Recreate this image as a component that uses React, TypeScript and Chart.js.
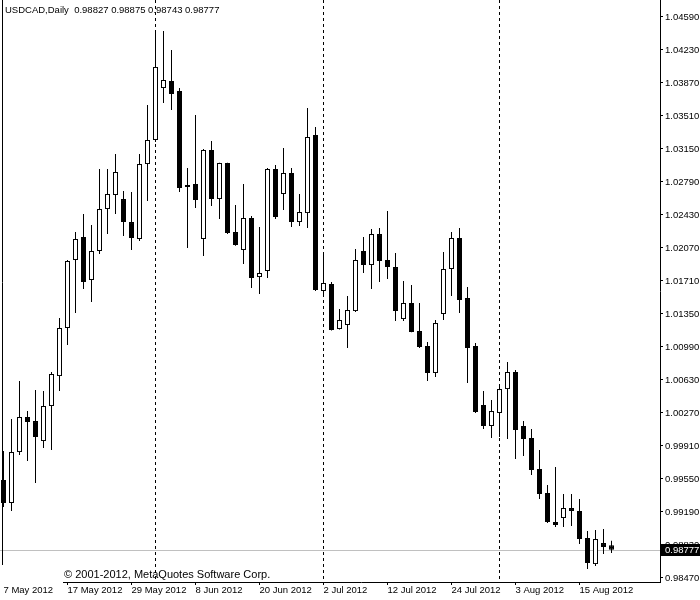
import React, { useEffect, useRef } from "react";
import { Chart, registerables } from "chart.js";

Chart.register(...registerables);

const symbolTitle = "USDCAD,Daily";
const copyrightText = "\u00a9 2001-2012, MetaQuotes Software Corp.";

const opens = [
  0.99539, 0.99288, 0.99844, 1.00226, 1.00182, 0.99964, 1.00346, 1.00673, 1.01197, 1.01939,
  1.0219, 1.01721, 1.02037, 1.02495, 1.02648, 1.02604, 1.02353, 1.02168, 1.02986, 1.03248,
  1.03815, 1.03892, 1.03783, 1.02735, 1.02768, 1.02168, 1.03139, 1.02604, 1.02997, 1.02244,
  1.02048, 1.02397, 1.01753, 1.01819, 1.02932, 1.02659, 1.02888, 1.02353, 1.02451, 1.03303,
  1.01601, 1.01677, 1.01186, 1.0123, 1.01382, 1.02037, 1.01884, 1.02222, 1.01939, 1.01862,
  1.01295, 1.0147, 1.01164, 1.01001, 1.00706, 1.0135, 1.01841, 1.02179, 1.01524, 1.01001,
  1.00357, 1.00128, 1.0027, 1.00531, 1.00717, 1.00128, 0.99997, 0.99659, 0.99397, 0.99081,
  0.99124, 0.99233, 0.99201, 0.98906, 0.98622, 0.98851, 0.98827,
];
const highs = [
  0.99855, 1.00204, 1.00619, 1.00291, 1.00521, 1.0051, 1.00717, 1.01306, 1.0194, 1.02244,
  1.02441, 1.02321, 1.02932, 1.02932, 1.03095, 1.02692, 1.02681, 1.03095, 1.0363, 1.04426,
  1.04437, 1.0423, 1.03815, 1.02943, 1.03521, 1.0315, 1.03237, 1.03, 1.03, 1.02539,
  1.02768, 1.02419, 1.02299, 1.02943, 1.02975, 1.03161, 1.02943, 1.02659, 1.03597, 1.0339,
  1.02004, 1.01699, 1.01404, 1.01546, 1.02059, 1.0219, 1.02277, 1.02288, 1.02473, 1.02015,
  1.0171, 1.01666, 1.0147, 1.01044, 1.01284, 1.02026, 1.02244, 1.02288, 1.01644, 1.01033,
  1.0051, 1.00411, 1.00564, 1.00826, 1.00739, 1.00182, 1.00095, 0.99866, 0.99484, 0.99681,
  0.99386, 0.99386, 0.99331, 0.98982, 0.98993, 0.99004, 0.98875,
];
const lows = [
  0.99244, 0.99201, 0.99811, 0.99746, 0.99506, 0.99888, 0.99866, 1.0051, 1.01011, 1.01361,
  1.01622, 1.01481, 1.02004, 1.02222, 1.02441, 1.02201, 1.02048, 1.02146, 1.02582, 1.03226,
  1.03652, 1.03575, 1.02681, 1.0207, 1.02506, 1.01982, 1.02528, 1.02386, 1.02222, 1.02095,
  1.01895, 1.01633, 1.01568, 1.01742, 1.02386, 1.02484, 1.02299, 1.0231, 1.02288, 1.016,
  1.01535, 1.0117, 1.0118, 1.00979, 1.01371, 1.01797, 1.01622, 1.01699, 1.01731, 1.01273,
  1.01273, 1.0115, 1.00979, 1.00619, 1.00662, 1.01284, 1.01546, 1.01361, 1.00597, 1.0027,
  1.00095, 0.99997, 1.00008, 0.99986, 0.99768, 0.99801, 0.99593, 0.99331, 0.9907, 0.99026,
  0.99026, 0.99037, 0.98841, 0.98568, 0.98601, 0.98731, 0.98743,
];
const closes = [
  0.99288, 0.99844, 1.00226, 1.00171, 1.00008, 1.00346, 1.00695, 1.01197, 1.01928, 1.02168,
  1.01699, 1.02037, 1.02495, 1.02659, 1.02899, 1.02353, 1.02179, 1.02986, 1.03248, 1.04045,
  1.03903, 1.0375, 1.02724, 1.02757, 1.02593, 1.03139, 1.02604, 1.02997, 1.02233, 1.02102,
  1.02397, 1.01742, 1.01797, 1.02932, 1.02408, 1.02888, 1.02353, 1.02462, 1.03281, 1.01611,
  1.01688, 1.01175, 1.01284, 1.01393, 1.01939, 1.01884, 1.02222, 1.01928, 1.01862, 1.01382,
  1.0147, 1.01153, 1.0099, 1.00706, 1.01251, 1.01841, 1.02179, 1.01502, 1.00979, 1.00281,
  1.00128, 1.00291, 1.00531, 1.00717, 1.00084, 0.99986, 0.99648, 0.99386, 0.99081, 0.99048,
  0.99233, 0.99201, 0.98895, 0.98633, 0.98895, 0.98808, 0.98777,
];

const dateTickBars = [0, 8, 16, 24, 32, 40, 48, 56, 64, 72];
const dateTickLabels = [
  "7 May 2012", "17 May 2012", "29 May 2012", "8 Jun 2012", "20 Jun 2012",
  "2 Jul 2012", "12 Jul 2012", "24 Jul 2012", "3 Aug 2012", "15 Aug 2012",
];
const monthStartBars = [19, 40, 62];
const priceTicks = [
  1.0459, 1.0423, 1.0387, 1.0351, 1.0315, 1.0279, 1.0243, 1.0207, 1.0171,
  1.0135, 1.0099, 1.0063, 1.0027, 0.9991, 0.9955, 0.9919, 0.9883, 0.9847,
];
const lastPrice = 0.98777;

const X_MIN = -0.4375;
const X_MAX = 82.0625;
const Y_MAX = 1.0477545;
const Y_MIN = 0.9842636;

const FONT = "'Liberation Sans', Arial, sans-serif";

export default function App() {
  const ref = useRef<HTMLCanvasElement | null>(null);

  useEffect(() => {
    const canvas = ref.current;
    if (!canvas) return;

    const idx = opens.map((_, i) => i);
    const bodyData = idx.map((i) => ({ x: i, y: [opens[i], closes[i]] }));
    const wickData = idx.map((i) => ({ x: i, y: [lows[i], highs[i]] }));
    const bodyFill = idx.map((i) => (closes[i] >= opens[i] ? "#ffffff" : "#000000"));

    const overlay = {
      id: "mt4overlay",
      beforeDatasetsDraw(chart: any) {
        const { ctx, chartArea, scales } = chart;
        const xs = scales.x;
        const ys = scales.y;
        ctx.save();
        ctx.lineWidth = 1;
        const by = Math.round(ys.getPixelForValue(lastPrice)) + 0.5;
        ctx.strokeStyle = "#c0c0c0";
        ctx.beginPath();
        ctx.moveTo(chartArea.left, by);
        ctx.lineTo(chartArea.right, by);
        ctx.stroke();
        ctx.strokeStyle = "#000000";
        ctx.setLineDash([3, 3]);
        for (const b of monthStartBars) {
          const px = Math.floor(xs.getPixelForValue(b)) + 0.5;
          ctx.beginPath();
          ctx.moveTo(px, chartArea.top);
          ctx.lineTo(px, chartArea.bottom);
          ctx.stroke();
        }
        ctx.setLineDash([]);
        ctx.restore();
      },
      afterDraw(chart: any) {
        const { ctx, chartArea, scales } = chart;
        const ys = scales.y;
        ctx.save();
        ctx.lineWidth = 1;
        ctx.strokeStyle = "#000000";
        // left frame
        ctx.beginPath();
        ctx.moveTo(2.5, chartArea.top);
        ctx.lineTo(2.5, 565);
        ctx.stroke();
        // bottom axis line
        ctx.beginPath();
        ctx.moveTo(63, chartArea.bottom + 0.5);
        ctx.lineTo(chartArea.right, chartArea.bottom + 0.5);
        ctx.stroke();
        // header
        ctx.fillStyle = "#000000";
        ctx.textBaseline = "middle";
        ctx.textAlign = "left";
        ctx.font = "9.5px " + FONT;
        const last = opens.length - 1;
        const header =
          symbolTitle + "  " +
          [opens[last], highs[last], lows[last], closes[last]].map((v) => v.toFixed(5)).join(" ");
        ctx.fillText(header, 5, 10);
        // copyright
        ctx.font = "11px " + FONT;
        ctx.fillText(copyrightText, 64, 575);
        // price tag
        const py = Math.round(ys.getPixelForValue(lastPrice));
        ctx.fillStyle = "#000000";
        ctx.fillRect(chartArea.right + 1, py - 6, 40, 12);
        ctx.fillStyle = "#ffffff";
        ctx.font = "9.5px " + FONT;
        ctx.fillText(lastPrice.toFixed(5), 665, py + 0.5);
        ctx.restore();
      },
    };

    const chart = new Chart(canvas, {
      type: "bar",
      data: {
        datasets: [
          {
            label: "body",
            data: bodyData as any,
            backgroundColor: bodyFill,
            borderColor: "#000000",
            borderWidth: 1,
            borderSkipped: false,
            barThickness: 5,
            grouped: false,
            inflateAmount: 0,
            order: 0,
          } as any,
          {
            label: "wick",
            data: wickData as any,
            backgroundColor: "#000000",
            borderWidth: 0,
            barThickness: 1,
            grouped: false,
            inflateAmount: 0,
            order: 1,
          } as any,
        ],
      },
      options: {
        responsive: false,
        animation: false,
        devicePixelRatio: 1,
        layout: { padding: 0 },
        plugins: {
          legend: { display: false },
          tooltip: { enabled: false },
          title: { display: false },
        },
        scales: {
          x: {
            type: "linear",
            min: X_MIN,
            max: X_MAX,
            offset: false,
            afterBuildTicks: (s: any) => {
              s.ticks = dateTickBars.map((v) => ({ value: v }));
            },
            afterFit: (s: any) => {
              s.height = 18;
              s.paddingLeft = 0;
              s.paddingRight = 0;
            },
            border: { display: false },
            grid: {
              offset: false,
              drawOnChartArea: false,
              drawTicks: true,
              tickLength: 3,
              color: (c: any) => (c.index === 0 ? "rgba(0,0,0,0)" : "#000000"),
            },
            ticks: {
              autoSkip: false,
              maxRotation: 0,
              minRotation: 0,
              align: "start",
              padding: 0,
              color: "#000000",
              font: { family: FONT, size: 9.5 },
              callback: (v: any) => {
                const k = dateTickBars.indexOf(Number(v));
                return k >= 0 ? dateTickLabels[k] : "";
              },
            },
          },
          y: {
            type: "linear",
            position: "right",
            min: Y_MIN,
            max: Y_MAX,
            afterBuildTicks: (s: any) => {
              s.ticks = priceTicks.map((v) => ({ value: v }));
            },
            afterFit: (s: any) => {
              s.width = 40;
              s.paddingTop = 0;
              s.paddingBottom = 0;
            },
            border: { display: true, color: "#000000", width: 1 },
            grid: {
              drawOnChartArea: false,
              drawTicks: true,
              tickLength: 3,
              color: "#000000",
            },
            ticks: {
              autoSkip: false,
              padding: 2,
              color: "#000000",
              font: { family: FONT, size: 9.5 },
              callback: (v: any) => Number(v).toFixed(5),
            },
          },
        },
      } as any,
      plugins: [overlay],
    });

    return () => {
      chart.destroy();
    };
  }, []);

  return (
    <div
      style={{
        position: "absolute",
        left: 0,
        top: 0,
        width: 700,
        height: 600,
        background: "#ffffff",
      }}
    >
      <canvas ref={ref} width={700} height={600} style={{ display: "block" }} />
    </div>
  );
}
